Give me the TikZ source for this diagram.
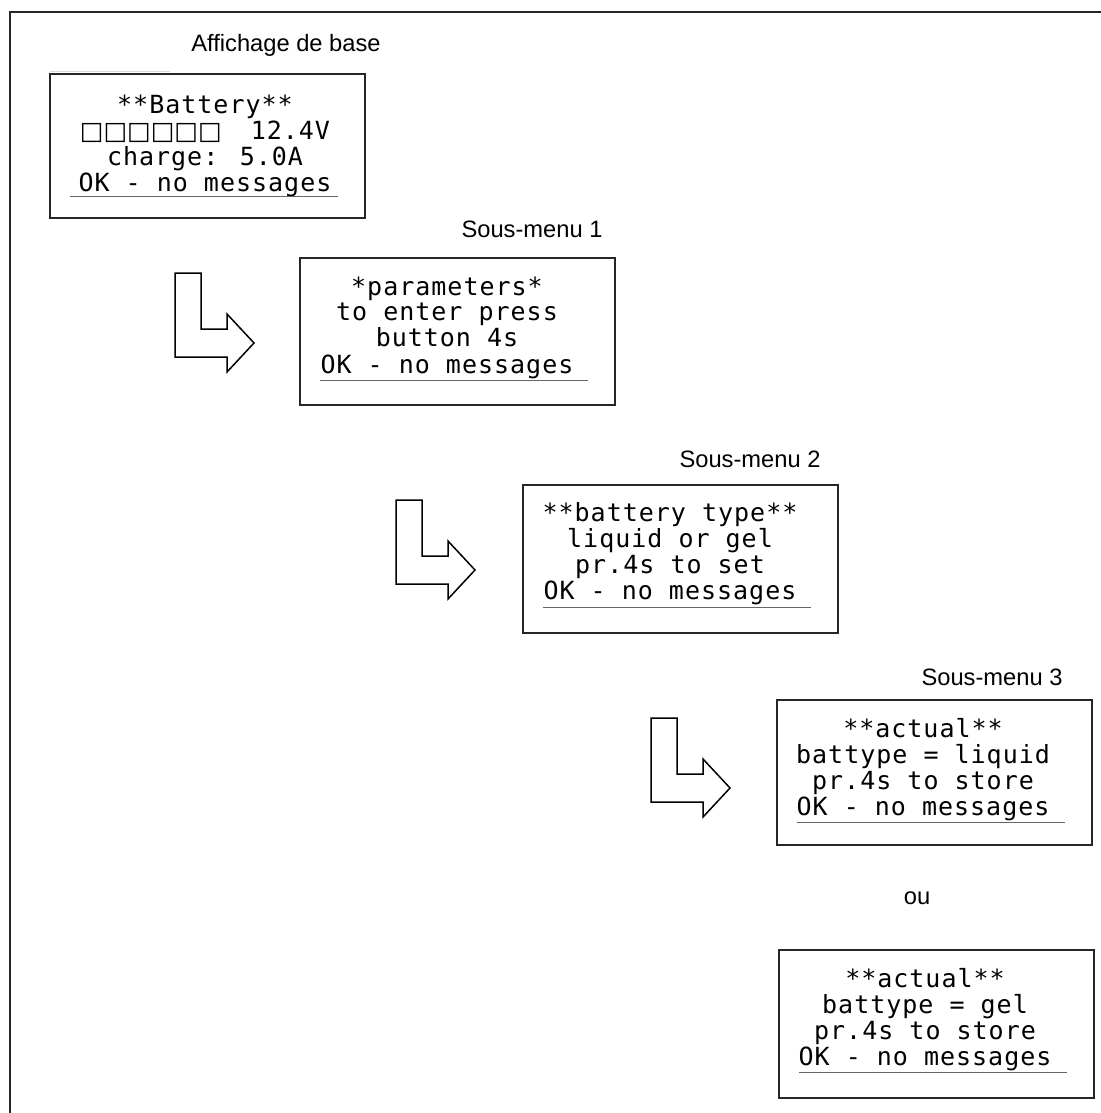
\documentclass[tikz,border=0pt]{standalone}
\usepackage{fontspec}
\setmainfont{Liberation Sans}
\newfontfamily\lcdfont[LetterSpace=4]{DejaVu Sans Mono}
\newfontfamily\sqfont{DejaVu Sans}
\usetikzlibrary{calc}
\tikzset{
  screen/.style={draw=black!85, line width=0.75pt, minimum width=157.5pt,
    anchor=north west, inner sep=0pt, outer sep=0pt},
  lcd/.style={font=\lcdfont\fontsize{12.5}{12.65}\selectfont, anchor=base, inner sep=0pt},
  caption/.style={font=\fontsize{11.85}{14}\selectfont, anchor=base, inner sep=0pt},
  lcdline/.style={draw=black!60, line width=0.5pt},
  turnarrow/.style={draw=black, line width=0.75pt, line join=miter, fill=white},
  frameline/.style={draw=black!85, line width=1pt}
}
\begin{document}
\begin{tikzpicture}[x=0.5pt,y=-0.5pt]
\useasboundingbox (0,0) rectangle (1101,1113);
\draw[frameline] (1110,12) -- (10,12) -- (10,1120);
\draw[black!15, line width=0.5pt] (50,72) -- (170,72);

% captions
\node[caption] (l0) at (286,52) {Affichage de base};
\node[caption] (l1) at (532,237) {Sous-menu 1};
\node[caption] (l2) at (750,467) {Sous-menu 2};
\node[caption] (l3) at (992,685) {Sous-menu 3};
\node[caption] (l4) at (917,904) {ou};

% screens
\node[screen, minimum height=72pt]   (b1) at (50,74)  {};
\node[screen, minimum height=73.5pt] (b2) at (300,258) {};
\node[screen, minimum height=74pt]   (b3) at (523,485) {};
\node[screen, minimum height=72.5pt] (b4) at (777,700) {};
\node[screen, minimum height=74pt]   (b5) at (779,950) {};

% screen texts
\node[lcd] (t1) at ($(b1.north west)+(155,39)$) {\begin{tabular}[t]{@{}c@{}}**Battery**\\{\sqfont □□□□□□}\hspace{6.5pt} 12.4V\\charge: 5.0A\\OK - no messages\end{tabular}};
\node[lcd] (t2) at ($(b2.north west)+(147,37)$) {\begin{tabular}[t]{@{}c@{}}*parameters*\\to enter press\\button 4s\\OK - no messages\end{tabular}};
\node[lcd] (t3) at ($(b3.north west)+(147,36)$) {\begin{tabular}[t]{@{}c@{}}**battery type**\\liquid or gel\\pr.4s to set\\OK - no messages\end{tabular}};
\node[lcd] (t4) at ($(b4.north west)+(146,37)$) {\begin{tabular}[t]{@{}c@{}}**actual**\\battype = liquid\\pr.4s to store\\OK - no messages\end{tabular}};
\node[lcd] (t5) at ($(b5.north west)+(146,37)$) {\begin{tabular}[t]{@{}c@{}}**actual**\\battype = gel\\pr.4s to store\\OK - no messages\end{tabular}};

% underlines
\foreach \b in {b1,b2,b3,b4,b5}
  \draw[lcdline] ($(\b.north west)+(20,122)$) -- ($(\b.north west)+(288,122)$);

% turn arrows
\coordinate (a1) at ($(b2.north west)+(-125,15)$);
\coordinate (a2) at ($(b3.north west)+(-127,15)$);
\coordinate (a3) at ($(b4.north west)+(-126,18)$);
\foreach \a in {a1,a2,a3}
  \draw[turnarrow] (\a) -- ++(26,0) -- ++(0,56) -- ++(26,0) -- ++(0,-15)
     -- ++(27,29) -- ++(-27,29) -- ++(0,-15) -- ++(-52,0) -- cycle;
\end{tikzpicture}
\end{document}
